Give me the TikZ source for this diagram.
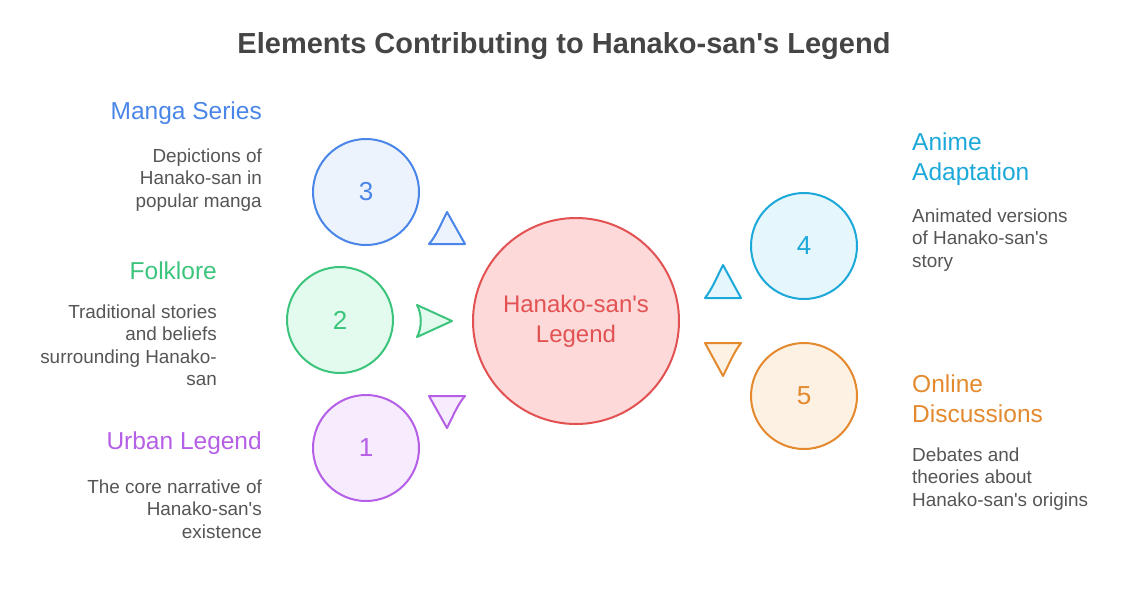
\documentclass[tikz,border=0pt]{standalone}
\usepackage{fontspec}
\setmainfont{Liberation Sans}[Ligatures=TeXOff]
\definecolor{ctitle}{HTML}{454545}
\definecolor{cdesc}{HTML}{555555}
\definecolor{cred}{HTML}{E35252}
\definecolor{credf}{HTML}{FDD9D9}
\definecolor{cblue}{HTML}{4A86E8}
\definecolor{cbluef}{HTML}{EDF3FD}
\definecolor{cgreen}{HTML}{3CC47C}
\definecolor{cgreenf}{HTML}{E3FAEE}
\definecolor{cpurple}{HTML}{B55EE6}
\definecolor{cpurplef}{HTML}{F6ECFD}
\definecolor{ccyan}{HTML}{1CA9DA}
\definecolor{ccyanf}{HTML}{E5F6FC}
\definecolor{corange}{HTML}{E3892E}
\definecolor{corangef}{HTML}{FDF1E3}
\begin{document}
\begin{tikzpicture}[x=1pt,y=-1pt,
  circ/.style={circle, draw, line width=2pt, inner sep=0pt, minimum size=106pt,
    font=\fontsize{26}{30}\selectfont},
  tri/.style={line width=2pt, line join=round},
  head/.style={inner sep=0pt, font=\fontsize{24.5}{30}\selectfont},
  desc/.style={inner sep=0pt, text=cdesc, font=\fontsize{18.9}{22.5}\selectfont},
]
\useasboundingbox (0,0) rectangle (1145,600);
% title
\node[inner sep=0pt, text=ctitle, font=\fontsize{29}{34}\bfseries] (title) at (564,46) {Elements Contributing to Hanako-san's Legend};
% central circle
\node[circ, draw=cred, fill=credf, minimum size=206pt, text=cred, align=center,
  font=\fontsize{24}{30}\selectfont] (main) at (576,321) {\raisebox{-2pt}{Hanako-san's}\\\raisebox{-2pt}{Legend}};
% small circles
\node[circ, draw=cblue, fill=cbluef, text=cblue] (c3) at (366,192) {3};
\node[circ, draw=cgreen, fill=cgreenf, text=cgreen] (c2) at (340,320) {2};
\node[circ, draw=cpurple, fill=cpurplef, text=cpurple] (c1) at (366,448) {1};
\node[circ, draw=ccyan, fill=ccyanf, text=ccyan] (c4) at (804,246) {4};
\node[circ, draw=corange, fill=corangef, text=corange] (c5) at (804,396) {5};
% triangles
\draw[tri, draw=cblue, fill=cbluef] (447,212) .. controls (440,226) and (436,236) .. (429,244) -- (465,244) -- cycle;
\draw[tri, draw=cgreen, fill=cgreenf] (452,321) -- (417,305) .. controls (422,314) and (422,328) .. (417,337) -- cycle;
\draw[tri, draw=cpurple, fill=cpurplef] (429,396) -- (465,396) .. controls (458,404) and (454,414) .. (447,428) -- cycle;
\draw[tri, draw=ccyan, fill=ccyanf] (723,265) .. controls (716,279) and (712,289) .. (705,298) -- (741,298) -- cycle;
\draw[tri, draw=corange, fill=corangef] (705,343) -- (741,343) .. controls (734,352) and (730,362) .. (723,376) -- cycle;
% left labels
\node[head, text=cblue, anchor=east] (h3) at (262,113) {Manga Series};
\node[desc, anchor=east, align=right] (d3) at (262,180) {Depictions of\\Hanako-san in\\popular manga};
\node[head, text=cgreen, anchor=east] (h2) at (217,271) {Folklore};
\node[desc, anchor=east, align=right] (d2) at (217,345) {Traditional stories\\and beliefs\\surrounding Hanako-\\san};
\node[head, text=cpurple, anchor=east] (h1) at (262,443) {Urban Legend};
\node[desc, anchor=east, align=right] (d1) at (262,509) {The core narrative of\\Hanako-san's\\existence};
% right labels
\node[head, text=ccyan, anchor=west, align=left] (h4) at (912,159) {Anime\\Adaptation};
\node[desc, anchor=west, align=left] (d4) at (912,240) {Animated versions\\of Hanako-san's\\story};
\node[head, text=corange, anchor=west, align=left] (h5) at (912,399) {Online\\Discussions};
\node[desc, anchor=west, align=left] (d5) at (912,479) {Debates and\\theories about\\Hanako-san's origins};
\end{tikzpicture}
\end{document}
